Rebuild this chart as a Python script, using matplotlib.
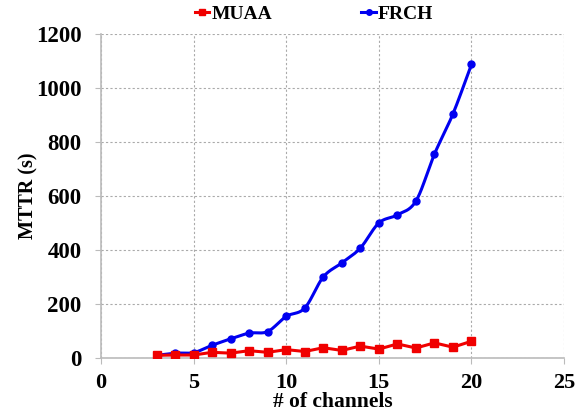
import numpy as np
import matplotlib.pyplot as plt

# MTTR against number of channels
channels = np.arange(3, 21)
muaa = [10, 11, 11, 21, 18, 27, 21, 31, 24, 38, 28, 44, 33, 52, 37, 56, 40, 62]
frch = [10, 18, 20, 47, 71, 92, 98, 154, 185, 300, 352, 407, 500, 530, 581, 755, 904, 1087]

x_ticks = [0, 5, 10, 15, 20, 25]
y_ticks = [0, 200, 400, 600, 800, 1000, 1200]


def smooth(x, y, n=20):
    # Catmull-Rom curve through the points, like a spreadsheet smoothed line
    x = np.asarray(x, float)
    y = np.asarray(y, float)
    px = np.concatenate([[2 * x[0] - x[1]], x, [2 * x[-1] - x[-2]]])
    py = np.concatenate([[2 * y[0] - y[1]], y, [2 * y[-1] - y[-2]]])
    t = np.linspace(0, 1, n, endpoint=False)
    xs, ys = [], []
    for i in range(1, len(px) - 2):
        for p, out in ((px, xs), (py, ys)):
            p0, p1, p2, p3 = p[i - 1], p[i], p[i + 1], p[i + 2]
            out.extend(0.5 * (2 * p1 + (-p0 + p2) * t
                              + (2 * p0 - 5 * p1 + 4 * p2 - p3) * t ** 2
                              + (-p0 + 3 * p1 - 3 * p2 + p3) * t ** 3))
    xs.append(x[-1])
    ys.append(y[-1])
    return np.array(xs), np.array(ys)


plt.rcParams["font.family"] = "Liberation Serif"
plt.rcParams["font.weight"] = "bold"

fig = plt.figure(figsize=(5.87, 4.19), dpi=100)
ax = fig.add_axes([0.172, 0.1456, 0.789, 0.7734])

sx, sy = smooth(channels, frch)
ax.plot(sx, sy, color="#0000f0", lw=2.2, zorder=3)
ax.plot(channels, frch, "o", color="#0000f0", ms=5, zorder=3)
ax.plot(channels, muaa, "-s", color="#f00000", lw=2.2, ms=5.5, zorder=4)

# legend handles
ax.plot([], [], "-s", color="#f00000", lw=2.2, ms=4.5, label="MUAA")
ax.plot([], [], "-o", color="#0000f0", lw=2.2, ms=4, label="FRCH")
leg = fig.legend(loc="upper center", bbox_to_anchor=(0.535, 1.03), ncol=2,
                 frameon=False, fontsize=14, handlelength=0.75,
                 handletextpad=0.1, columnspacing=4.6)

ax.set_xlim(0, 25)
ax.set_ylim(0, 1200)
ax.set_xticks(x_ticks)
ax.set_yticks(y_ticks)
ax.grid(True, color="#aaaaaa", linestyle=(0, (2, 2)), lw=0.8)
for s in ("top", "right"):
    ax.spines[s].set_visible(False)
for s in ("left", "bottom"):
    ax.spines[s].set_color("#bbbbbb")
    ax.spines[s].set_linewidth(1.2)
ax.tick_params(colors="#bbbbbb", labelcolor="black", labelsize=16.5, length=4)
ax.tick_params(axis="y", pad=10)
ax.tick_params(axis="x", pad=7, labelsize=16)

ax.set_xlabel("# of channels", fontsize=15.5, fontweight="bold", labelpad=-1)
ax.set_ylabel("MTTR (s)", fontsize=14.5, fontweight="bold", labelpad=-2)

fig.savefig("out.png", dpi=100)
